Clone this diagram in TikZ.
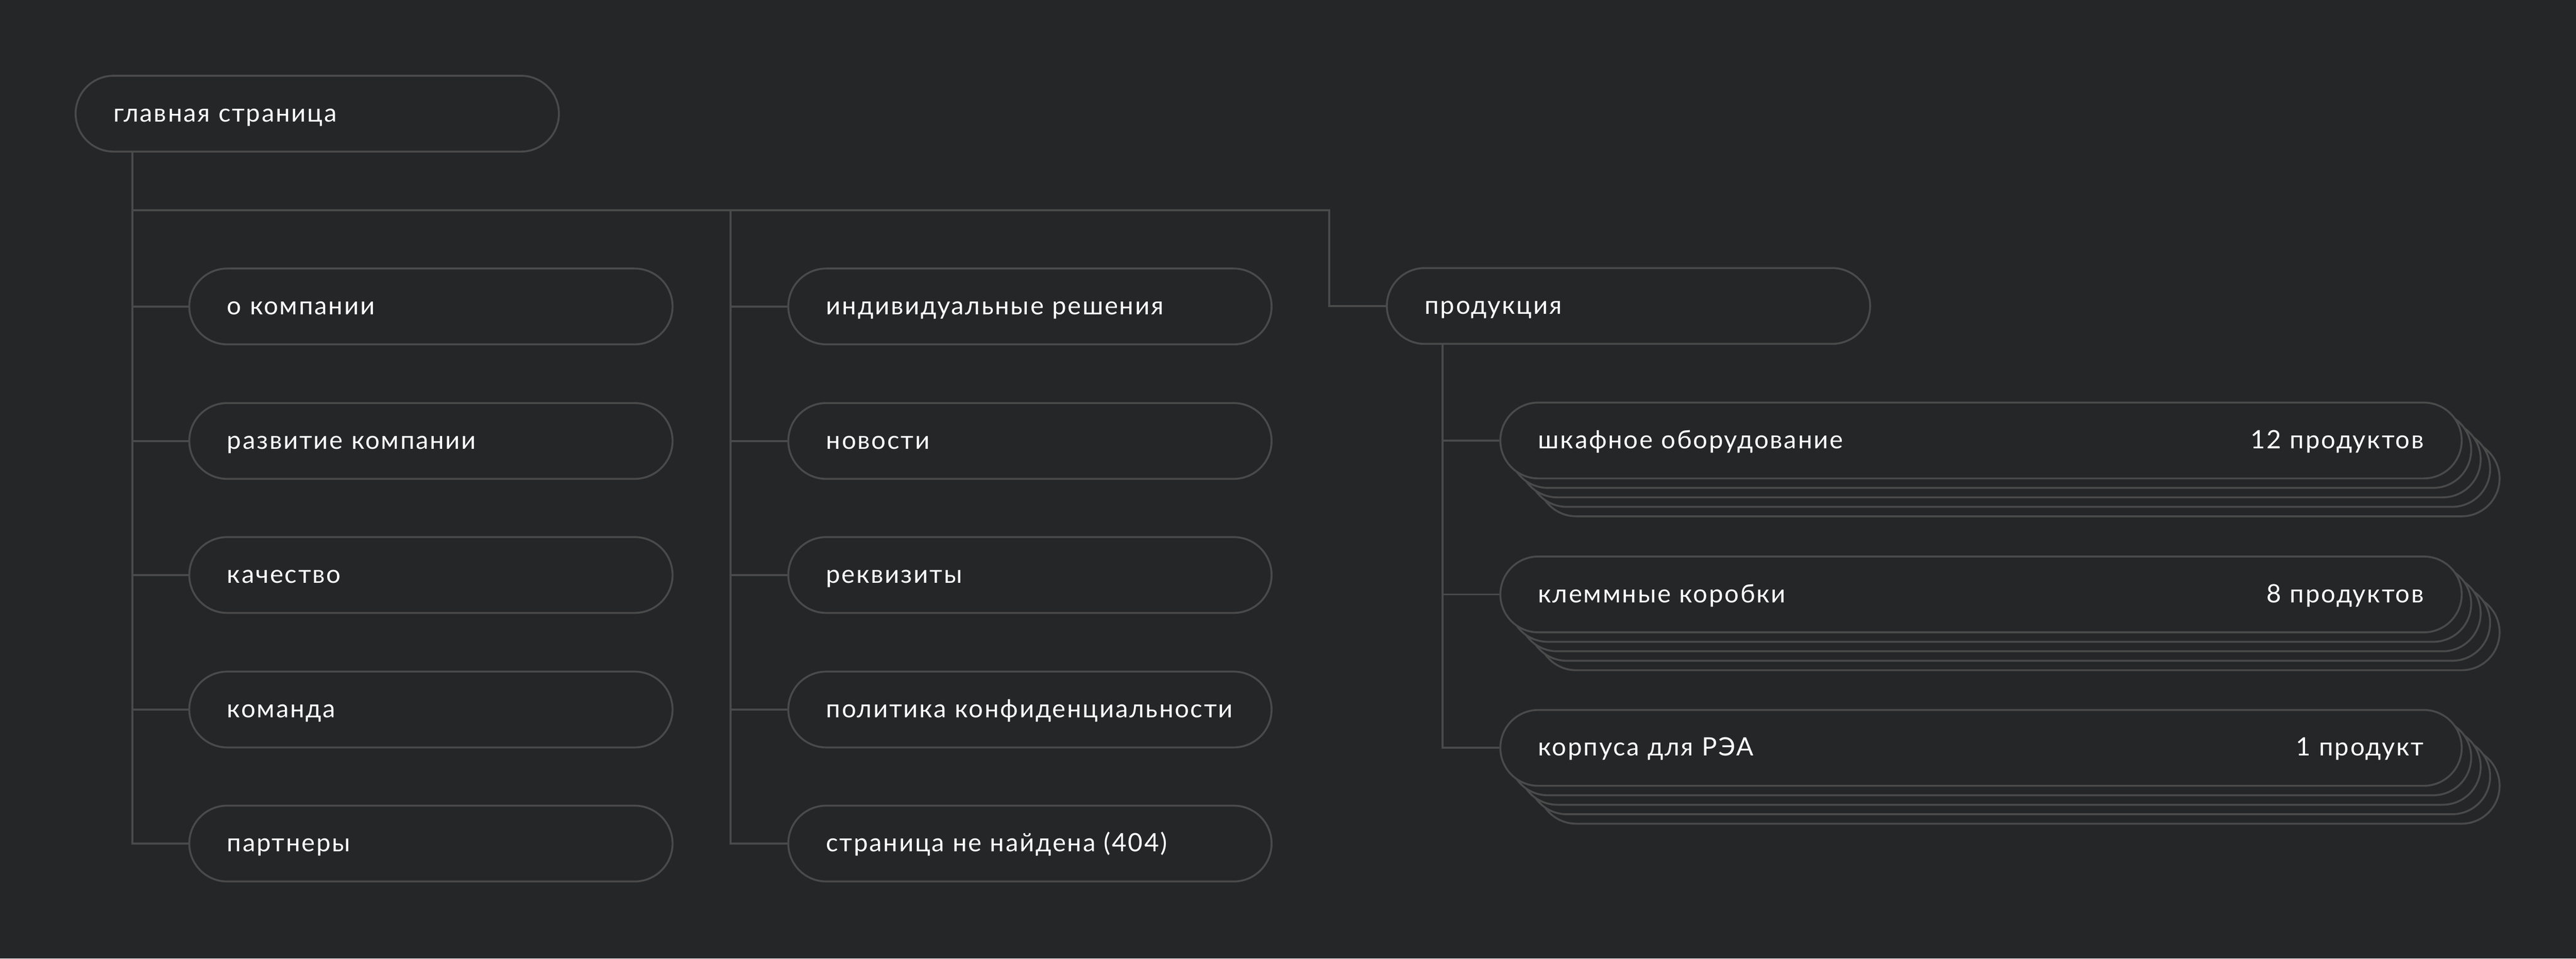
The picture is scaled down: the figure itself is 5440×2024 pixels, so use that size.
\documentclass[tikz,border=0pt]{standalone}
\usepackage{fontspec}
\setmainfont{Lato}[LetterSpace=5.5]
\definecolor{bgc}{HTML}{252628}
\definecolor{linec}{HTML}{4A4A4A}
\begin{document}
\begin{tikzpicture}[x=0.01cm,y=-0.01cm,
  conn/.style={draw=linec,line width=1.15pt},
  pill/.style={draw=linec,line width=1.15pt,fill=bgc,rounded corners=0.8cm,
    minimum height=1.6cm,minimum width=10.2cm,inner xsep=0.8cm,inner ysep=0pt,
    text width=8.6cm,align=left,text height=0.44cm,text depth=0.10cm,
    font=\fontsize{15.2pt}{18pt}\selectfont,text=white},
  wide/.style={minimum width=20.29cm,text width=18.69cm}]
\fill[bgc] (0,0) rectangle (5440,2024);
\useasboundingbox (0,0) rectangle (5440,2024);

% junction coordinates
\coordinate (j1) at (280,444);
\coordinate (j2) at (1543,444);
\coordinate (j3) at (2807,444);
\coordinate (kx) at (3046,0);

% root
\node[pill] (main) at (670,240) {главная страница};

% column 1
\node[pill] (p1) at (910,647) {о компании};
\node[pill] (p2) at (910,931) {развитие компании};
\node[pill] (p3) at (910,1214) {качество};
\node[pill] (p4) at (910,1498) {команда};
\node[pill] (p5) at (910,1781) {партнеры};

% column 2
\node[pill] (q1) at (2175,647) {индивидуальные решения};
\node[pill] (q2) at (2175,931) {новости};
\node[pill] (q3) at (2175,1214) {реквизиты};
\node[pill] (q4) at (2175,1498) {политика конфиденциальности};
\node[pill] (q5) at (2175,1781) {страница не найдена (404)};

% column 3
\node[pill] (prod) at (3439,646) {продукция};

% product stacks
\foreach \i in {4,3,2,1}{
  \node[pill,wide] (r1s\i) at ({4183.5+20*\i},{930+20*\i}) {};
  \node[pill,wide] (r2s\i) at ({4183.5+20*\i},{1255+20*\i}) {};
  \node[pill,wide] (r3s\i) at ({4183.5+20*\i},{1579+20*\i}) {};
}
\node[pill,wide] (r1) at (4183.5,930) {шкафное оборудование\hskip0pt plus1filll 12 продуктов};
\node[pill,wide] (r2) at (4183.5,1255) {клеммные коробки\hskip0pt plus1filll 8 продуктов};
\node[pill,wide] (r3) at (4183.5,1579) {корпуса для РЭА\hskip0pt plus1filll 1 продукт};

% connectors
\draw[conn] (main.south -| j1) |- (p5.west);
\draw[conn] (j1) -- (j3) |- (prod.west);
\foreach \n in {p1,p2,p3,p4}{ \draw[conn] (\n.west -| j1) -- (\n.west); }
\draw[conn] (j2) |- (q5.west);
\foreach \n in {q1,q2,q3,q4}{ \draw[conn] (\n.west -| j2) -- (\n.west); }
\draw[conn] (prod.south -| kx) |- (r3.west);
\foreach \n in {r1,r2}{ \draw[conn] (\n.west -| kx) -- (\n.west); }
\end{tikzpicture}
\end{document}
